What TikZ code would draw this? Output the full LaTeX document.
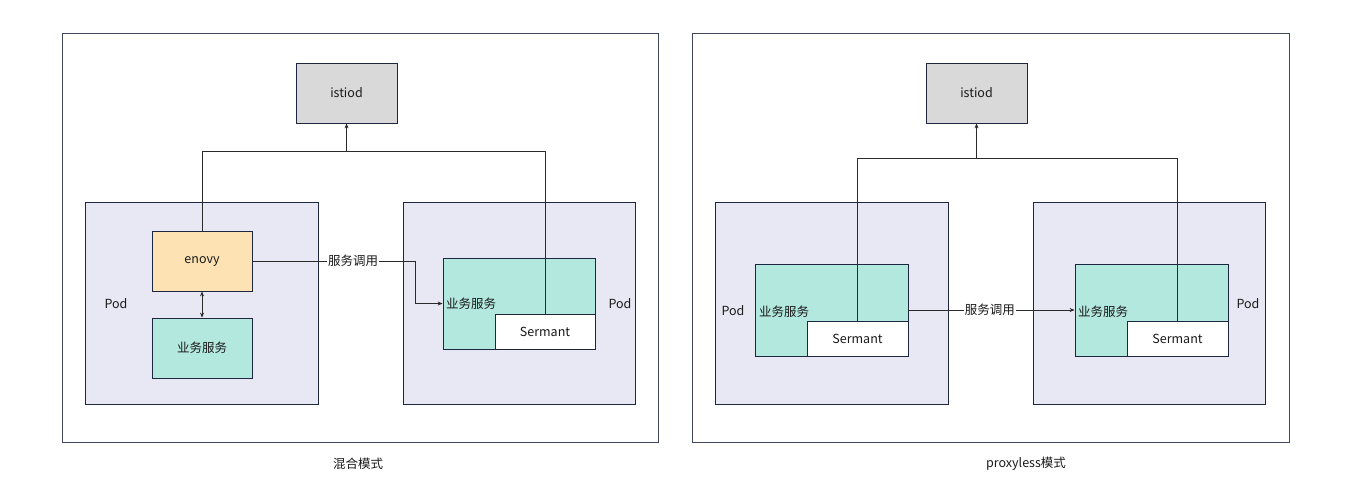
\documentclass[tikz,border=0pt]{standalone}
\usepackage{fontspec}
\setmainfont{Noto Sans CJK SC}
\usetikzlibrary{arrows.meta}
\definecolor{edgec}{HTML}{1F2640}
\definecolor{podc}{HTML}{E8E8F4}
\definecolor{bizc}{HTML}{B3E8DF}
\definecolor{envc}{HTML}{FDE3B4}
\definecolor{istc}{HTML}{D9D9D9}
\definecolor{linec}{HTML}{2A2A2A}
\begin{document}
\begin{tikzpicture}[x=1pt,y=-1pt,
  every node/.style={font=\fontsize{12.5}{14}\selectfont, inner sep=0pt, text=black!90},
  frame/.style={draw=edgec!85, line width=0.8pt, fill=white, rectangle},
  pod/.style={draw=edgec, line width=0.8pt, fill=podc, rectangle},
  biz/.style={draw=edgec, line width=0.8pt, fill=bizc, rectangle},
  sem/.style={draw=edgec, line width=0.8pt, fill=white, rectangle},
  env/.style={draw=edgec, line width=0.8pt, fill=envc, rectangle},
  ist/.style={draw=edgec, line width=0.8pt, fill=istc, rectangle},
  conn/.style={draw=linec, line width=0.7pt},
  tip/.style={-{Stealth[length=5pt,width=4pt]}},
  lbl/.style={fill=white, inner sep=1pt}
]
\useasboundingbox (0,0) rectangle (1357,499);
% ---------- left panel ----------
\node[frame, minimum width=596pt, minimum height=409pt] (frameL) at (360,237.5) {};
\node[ist, minimum width=101pt, minimum height=60pt] (istiodL) at (346.5,93) {istiod};
\node[pod, minimum width=233pt, minimum height=202pt] (podL1) at (201.5,303) {};
\node[pod, minimum width=232pt, minimum height=202pt] (podL2) at (519,303) {};
\node[env, minimum width=100pt, minimum height=60pt] (enovy) at (202,261) {enovy};
\node[biz, minimum width=100pt, minimum height=60pt] (svcL) at (202,348) {业务服务};
\node[biz, minimum width=152pt, minimum height=91pt] (bizL) at (519,303.5) {};
\node[sem, minimum width=100pt, minimum height=35pt] (semL) at (545,331.5) {Sermant};
\node (podLabL1) at (116,304) {Pod};
\node (podLabL2) at (620,304) {Pod};
\node[anchor=west] (bizLabL) at (446,304) {业务服务};
\coordinate (jL) at (346.5,151);
\draw[conn] (enovy.north) |- (jL);
\draw[conn] (semL.north) |- (jL);
\draw[conn, tip] (jL) -- (istiodL.south);
\draw[conn, {Stealth[length=5pt,width=4pt]}-{Stealth[length=5pt,width=4pt]}] (enovy.south) -- (svcL.north);
\coordinate (bendL) at (415,261);
\draw[conn, tip] (enovy.east) -- node[lbl, pos=0.62] (callL) {服务调用} (bendL) |- (bizL.west);
\node (capL) at (358,464) {混合模式};
% ---------- right panel ----------
\node[frame, minimum width=597pt, minimum height=409pt] (frameR) at (990.5,237.5) {};
\node[ist, minimum width=101pt, minimum height=60pt] (istiodR) at (976.5,93) {istiod};
\node[pod, minimum width=233pt, minimum height=202pt] (podR1) at (831.5,303) {};
\node[pod, minimum width=232pt, minimum height=202pt] (podR2) at (1149,303) {};
\node[biz, minimum width=153pt, minimum height=92pt] (bizR1) at (831.5,310) {};
\node[sem, minimum width=101pt, minimum height=35pt] (semR1) at (857.5,338.5) {Sermant};
\node[biz, minimum width=153pt, minimum height=92pt] (bizR2) at (1151.5,310) {};
\node[sem, minimum width=101pt, minimum height=35pt] (semR2) at (1177.5,338.5) {Sermant};
\node (podLabR1) at (733,311) {Pod};
\node (podLabR2) at (1248,304) {Pod};
\node[anchor=west] (bizLabR1) at (759,312) {业务服务};
\node[anchor=west] (bizLabR2) at (1078,312) {业务服务};
\coordinate (jR) at (976.5,158);
\draw[conn] (semR1.north) |- (jR);
\draw[conn] (semR2.north) |- (jR);
\draw[conn, tip] (jR) -- (istiodR.south);
\draw[conn, tip] (bizR1.east) -- node[lbl, pos=0.49] (callR) {服务调用} (bizR2.west);
\node (capR) at (1026,464) {proxyless模式};
\end{tikzpicture}
\end{document}
